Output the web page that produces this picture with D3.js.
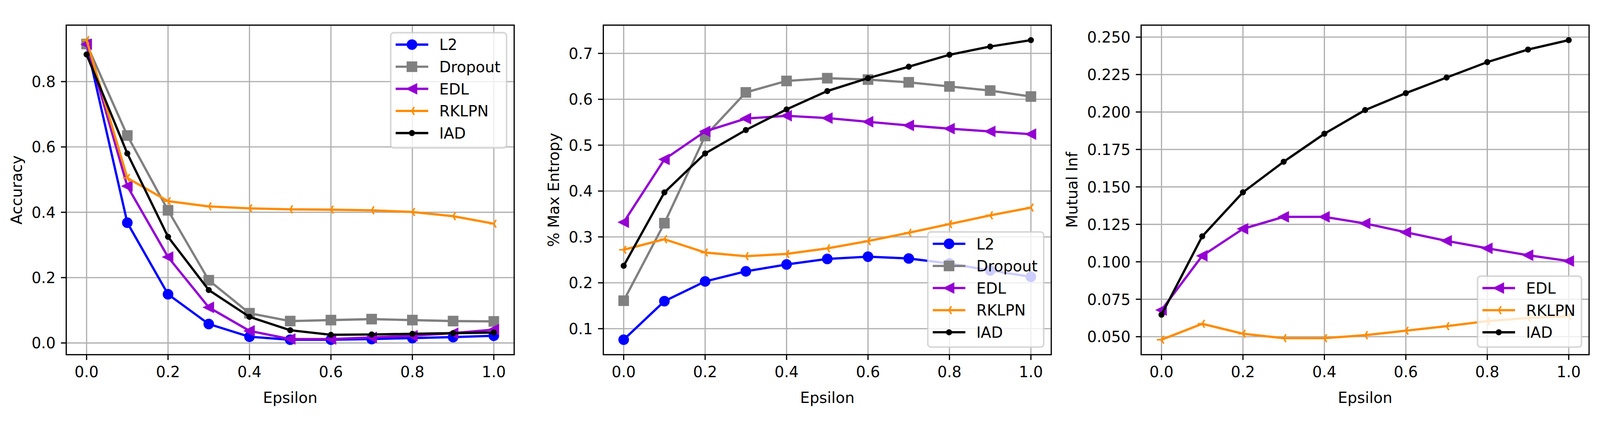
<!DOCTYPE html>
<html><head><meta charset="utf-8">
<script src="https://cdn.jsdelivr.net/npm/d3@7"></script>
<style>
html,body{margin:0;padding:0;background:#fff;overflow:hidden;width:100%;height:100%}
svg{display:block;width:100vw;height:100vh}
text{font-family:"DejaVu Sans",sans-serif;font-size:41.67px;fill:#000}
</style>
</head><body>
<svg id="chart" viewBox="0 0 4397 1091" preserveAspectRatio="xMidYMid meet"></svg>
<script>
// ---------- data ----------
const epsilon = [0.0,0.1,0.2,0.3,0.4,0.5,0.6,0.7,0.8,0.9,1.0];
const xTicks = [0.0,0.2,0.4,0.6,0.8,1.0];
const accTicks = [0.0,0.2,0.4,0.6,0.8];
const entTicks = [0.1,0.2,0.3,0.4,0.5,0.6,0.7];
const miTicks = [0.050,0.075,0.100,0.125,0.150,0.175,0.200,0.225,0.250];

// Accuracy
const accL2      = [0.915,0.368,0.149,0.058,0.019,0.010,0.010,0.012,0.015,0.018,0.022];
const accDropout = [0.915,0.635,0.406,0.192,0.091,0.067,0.070,0.073,0.070,0.067,0.066];
const accEDL     = [0.914,0.480,0.263,0.109,0.037,0.012,0.012,0.017,0.022,0.030,0.041];
const accRKLPN   = [0.927,0.505,0.434,0.418,0.412,0.409,0.408,0.406,0.401,0.388,0.365];
const accIAD     = [0.883,0.580,0.325,0.162,0.080,0.039,0.025,0.026,0.028,0.030,0.032];

// % Max Entropy
const entL2      = [0.076,0.160,0.203,0.225,0.240,0.252,0.257,0.253,0.242,0.227,0.213];
const entDropout = [0.161,0.330,0.520,0.615,0.640,0.646,0.643,0.637,0.628,0.619,0.606];
const entEDL     = [0.332,0.469,0.530,0.558,0.564,0.559,0.551,0.543,0.536,0.530,0.524];
const entRKLPN   = [0.272,0.295,0.266,0.258,0.263,0.275,0.291,0.309,0.328,0.347,0.364];
const entIAD     = [0.237,0.397,0.482,0.533,0.578,0.618,0.646,0.671,0.697,0.715,0.729];

// Mutual Inf
const miEDL   = [0.0678,0.104,0.122,0.130,0.130,0.1256,0.1197,0.114,0.109,0.1044,0.1005];
const miRKLPN = [0.048,0.0586,0.052,0.049,0.049,0.051,0.054,0.057,0.0604,0.0625,0.0637];
const miIAD   = [0.0647,0.117,0.1464,0.1668,0.1855,0.2013,0.2126,0.223,0.2333,0.2417,0.248];

const methodNames = ["L2","Dropout","EDL","RKLPN","IAD"];
const methodColors = ["#0000ff","#808080","#9400d3","#ff8c00","#000000"];
const methodMarkers = ["o","s","<","3","."];

// ---------- layout ----------
const PT = 300/72;
const FS = 10*PT;
const LW = 1.5*PT, GW = 0.8*PT, MEW = 1.0*PT, MS = 6*PT;
const TICKLEN = 3.5*PT, TICKPAD = 3.5*PT;
const axTop = 29, axBottom = 935, axWidth = 1231;

const panels = [
  {left:182,  ylabel:"Accuracy",      ticks:accTicks, fmt:d3.format(".1f"), legend:"upper right",
   series:[["L2",accL2],["Dropout",accDropout],["EDL",accEDL],["RKLPN",accRKLPN],["IAD",accIAD]]},
  {left:1658, ylabel:"% Max Entropy", ticks:entTicks, fmt:d3.format(".1f"), legend:"lower right",
   series:[["L2",entL2],["Dropout",entDropout],["EDL",entEDL],["RKLPN",entRKLPN],["IAD",entIAD]]},
  {left:3136, ylabel:"Mutual Inf",    ticks:miTicks,  fmt:d3.format(".3f"), legend:"lower right",
   series:[["EDL",miEDL],["RKLPN",miRKLPN],["IAD",miIAD]]}
];

const svg = d3.select("#chart");

function drawMarker(g, type, cx, cy, color){
  const r = MS/2;
  if(type==="o"){
    g.append("circle").attr("cx",cx).attr("cy",cy).attr("r",r)
      .attr("fill",color).attr("stroke",color).attr("stroke-width",MEW);
  } else if(type==="."){
    g.append("circle").attr("cx",cx).attr("cy",cy).attr("r",r*0.5)
      .attr("fill",color).attr("stroke",color).attr("stroke-width",MEW);
  } else if(type==="s"){
    g.append("rect").attr("x",cx-r).attr("y",cy-r).attr("width",2*r).attr("height",2*r)
      .attr("fill",color).attr("stroke",color).attr("stroke-width",MEW).attr("stroke-linejoin","miter");
  } else if(type==="<"){
    const p = `M${cx-r},${cy}L${cx+r},${cy-r}L${cx+r},${cy+r}Z`;
    g.append("path").attr("d",p).attr("fill",color).attr("stroke",color)
      .attr("stroke-width",MEW).attr("stroke-linejoin","miter");
  } else if(type==="3"){
    const p = `M${cx},${cy}L${cx-r},${cy}M${cx},${cy}L${cx+0.5*r},${cy-0.866*r}M${cx},${cy}L${cx+0.5*r},${cy+0.866*r}`;
    g.append("path").attr("d",p).attr("fill","none").attr("stroke",color)
      .attr("stroke-width",MEW).attr("stroke-linecap","butt");
  }
}

panels.forEach(P=>{
  const left = P.left, right = P.left + axWidth;
  const x = d3.scaleLinear().domain([-0.05,1.05]).range([left,right]);
  const all = P.series.flatMap(s=>s[1]);
  const mn = d3.min(all), mx = d3.max(all), pad = (mx-mn)*0.05;
  const y = d3.scaleLinear().domain([mn-pad, mx+pad]).range([axBottom, axTop]);

  const g = svg.append("g");

  // grid
  const grid = g.append("g").attr("stroke","#b0b0b0").attr("stroke-width",GW);
  xTicks.forEach(t=>grid.append("line").attr("x1",x(t)).attr("x2",x(t)).attr("y1",axTop).attr("y2",axBottom));
  P.ticks.forEach(t=>grid.append("line").attr("x1",left).attr("x2",right).attr("y1",y(t)).attr("y2",y(t)));

  // clip
  const cid = "clip"+left;
  svg.append("clipPath").attr("id",cid).append("rect")
    .attr("x",left).attr("y",axTop).attr("width",axWidth).attr("height",axBottom-axTop);

  const plot = g.append("g").attr("clip-path",`url(#${cid})`);
  const line = d3.line().x((d,i)=>x(epsilon[i])).y(d=>y(d));
  P.series.forEach(([name,vals])=>{
    const k = methodNames.indexOf(name);
    const col = methodColors[k];
    const sg = plot.append("g");
    sg.append("path").attr("d",line(vals)).attr("fill","none").attr("stroke",col)
      .attr("stroke-width",LW).attr("stroke-linejoin","round").attr("stroke-linecap","square");
    vals.forEach((v,i)=>drawMarker(sg, methodMarkers[k], x(epsilon[i]), y(v), col));
  });

  // spines
  g.append("rect").attr("x",left).attr("y",axTop).attr("width",axWidth).attr("height",axBottom-axTop)
    .attr("fill","none").attr("stroke","#000").attr("stroke-width",GW).attr("stroke-linejoin","miter");

  // x ticks
  const xt = g.append("g");
  xTicks.forEach(t=>{
    xt.append("line").attr("x1",x(t)).attr("x2",x(t)).attr("y1",axBottom).attr("y2",axBottom+TICKLEN)
      .attr("stroke","#000").attr("stroke-width",GW);
    xt.append("text").attr("x",x(t)).attr("y",997).attr("text-anchor","middle").text(d3.format(".1f")(t));
  });
  // y ticks
  const yt = g.append("g");
  let maxW = 0;
  P.ticks.forEach(t=>{
    yt.append("line").attr("x1",left-TICKLEN).attr("x2",left).attr("y1",y(t)).attr("y2",y(t))
      .attr("stroke","#000").attr("stroke-width",GW);
    const tx = yt.append("text").attr("x",left-TICKLEN-TICKPAD).attr("y",y(t)+15.2)
      .attr("text-anchor","end").text(P.fmt(t));
    maxW = Math.max(maxW, tx.node().getComputedTextLength());
  });

  // axis labels
  g.append("text").attr("x",(left+right)/2).attr("y",1068).attr("text-anchor","middle").text("Epsilon");
  const lx = left - TICKLEN - TICKPAD - maxW - 4*PT - 0.236*FS;
  g.append("text").attr("transform",`translate(${lx},${(axTop+axBottom)/2}) rotate(-90)`)
    .attr("text-anchor","middle").text(P.ylabel);

  // legend
  const n = P.series.length;
  const bp = 0.4*FS, hl = 2.0*FS, htp = 0.8*FS, bap = 0.5*FS, rowStep = 60.8;
  const lg = g.append("g");
  const frame = lg.append("rect");
  let tw = 0;
  const tmp = [];
  P.series.forEach(([name])=>{
    const t = lg.append("text").text(name);
    tw = Math.max(tw, t.node().getComputedTextLength());
    tmp.push(t);
  });
  const lw = 2*bp + hl + htp + tw;
  const lh = 2*bp + n*40 + (n-1)*(0.5*FS);
  const lRight = right - bap;
  const lLeft = lRight - lw;
  const lTop = P.legend==="upper right" ? axTop + bap : axBottom - bap - lh;
  frame.attr("x",lLeft).attr("y",lTop).attr("width",lw).attr("height",lh)
    .attr("rx",0.2*FS).attr("ry",0.2*FS)
    .attr("fill","#ffffff").attr("fill-opacity",0.8)
    .attr("stroke","#cccccc").attr("stroke-opacity",0.8).attr("stroke-width",MEW);
  P.series.forEach(([name],i)=>{
    const k = methodNames.indexOf(name);
    const col = methodColors[k];
    const hy = lTop + 32.7 + i*rowStep;
    const hx0 = lLeft + bp, hx1 = hx0 + hl;
    lg.append("line").attr("x1",hx0).attr("x2",hx1).attr("y1",hy).attr("y2",hy)
      .attr("stroke",col).attr("stroke-width",LW).attr("stroke-linecap","square");
    drawMarker(lg, methodMarkers[k], (hx0+hx1)/2, hy, col);
    tmp[i].attr("x",hx1+htp).attr("y",hy+15.2).raise();
  });
});
</script>
</body></html>
